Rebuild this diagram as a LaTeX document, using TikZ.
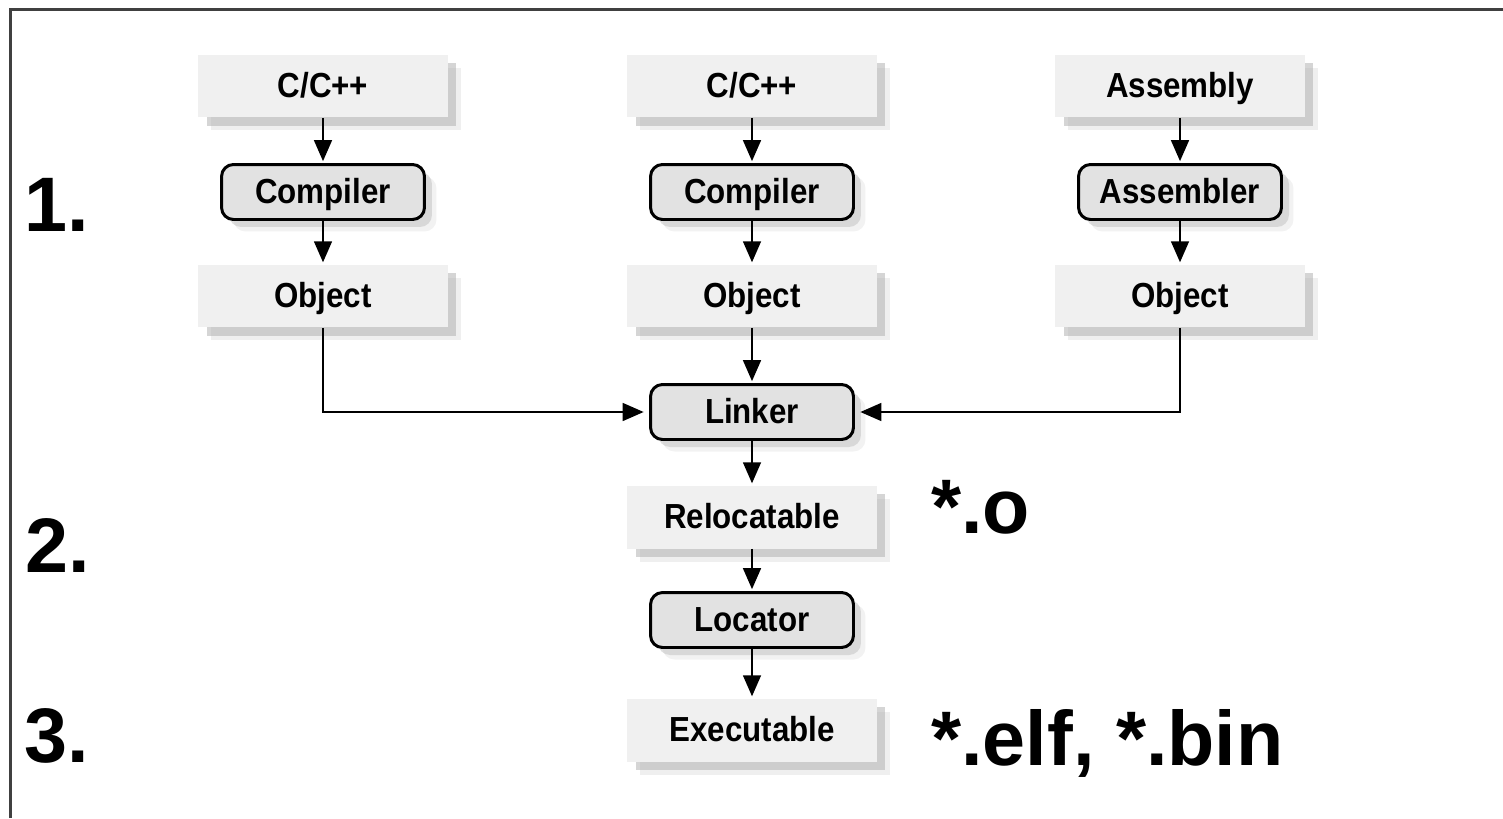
\documentclass[tikz,border=0pt]{standalone}
\usepackage{fontspec}
\setmainfont{Liberation Sans}
\newfontfamily\boxfont[FakeStretch=0.9]{Liberation Sans Bold}
\usetikzlibrary{arrows.meta,shadows}
\definecolor{framegray}{HTML}{404040}
\definecolor{filegray}{HTML}{F0F0F0}
\definecolor{toolgray}{HTML}{E2E2E2}

\begin{document}
\begin{tikzpicture}[x=0.02cm,y=-0.02cm,
	file/.style={fill=filegray,minimum width=5cm,minimum height=1.26cm,inner sep=0pt,
		font=\boxfont\fontsize{19.8}{22}\selectfont,text height=14.5pt,text depth=1.5pt,
		drop shadow={shadow xshift=0.26cm,shadow yshift=-0.26cm,fill=black!12},
		drop shadow={shadow xshift=0.17cm,shadow yshift=-0.17cm,fill=black!33}},
	tool/.style={draw,line width=1.7pt,rounded corners=0.24cm,fill=toolgray,
		minimum width=4.06cm,minimum height=1.1cm,inner sep=0pt,
		font=\boxfont\fontsize{19.8}{22}\selectfont,text height=14.5pt,text depth=1.5pt,
		drop shadow={shadow xshift=0.24cm,shadow yshift=-0.24cm,fill=black!10,draw=none},
		drop shadow={shadow xshift=0.15cm,shadow yshift=-0.15cm,fill=black!25,draw=none}},
	arr/.style={line width=1.6pt,-{Triangle[length=12pt,width=10pt]},shorten >=1pt},
	big/.style={anchor=base west,inner sep=0pt,font=\bfseries\fontsize{44}{50}\selectfont}]
	\useasboundingbox (0,0) rectangle (1503,818);
	\draw[framegray,line width=1.7pt] (10.7,818) |- (1503,9.7);

	\foreach \x/\src/\tool [count=\i] in {323/{C/C++}/Compiler,752/{C/C++}/Compiler,1180/Assembly/Assembler}
	{
		\node[file] at (\x,86) (src\i) {\src};
		\node[tool] at (\x,192) (tool\i) {\tool};
		\node[file] at (\x,296) (obj\i) {Object};
		\draw[arr] (src\i) -- (tool\i);
		\draw[arr] (tool\i) -- (obj\i);
	}

	\node[tool] at (752,412) (link) {Linker};
	\node[file] at (752,517) (reloc) {Relocatable};
	\node[tool] at (752,620) (loc) {Locator};
	\node[file] at (752,730) (exe) {Executable};

	\draw[arr,shorten >=3pt] (obj1) |- (link);
	\draw[arr,shorten >=3pt] (obj3) |- (link);
	\draw[arr] (obj2) -- (link);
	\draw[arr] (link) -- (reloc);
	\draw[arr] (reloc) -- (loc);
	\draw[arr] (loc) -- (exe);

	\node[big] at (24,231) (step1) {1.};
	\node[big] at (25,572) (step2) {2.};
	\node[big] at (24,762) (step3) {3.};
	\node[big] at (931,533) (ext1) {*.o};
	\node[big] at (931,765) (ext2) {*.elf, *.bin};
\end{tikzpicture}
\end{document}
